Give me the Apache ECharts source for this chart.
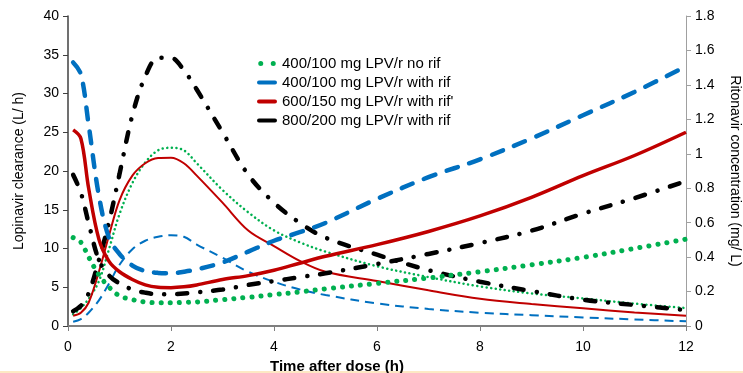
<!DOCTYPE html>
<html>
<head>
<meta charset="utf-8">
<script src="https://cdn.jsdelivr.net/npm/echarts@6/dist/echarts.min.js"></script>
<style>
  html, body { margin: 0; padding: 0; background: #fff; }
  #chart { width: 743px; height: 373px; }
</style>
</head>
<body>
<div id="chart"></div>
<script>
// time after dose (h), shared by every curve
const hours = [0.1, 0.25, 0.4, 0.6, 0.8, 1, 1.25, 1.5, 1.75, 2, 2.25, 2.5, 3, 3.5, 4, 4.5, 5, 6, 7, 8, 9, 10, 11, 12];

// lopinavir clearance (L/h), left axis
const clNoRif400 = [11.4, 10.8, 8.9, 6.6, 5.0, 3.9, 3.4, 3.1, 3.0, 3.0, 3.05, 3.1, 3.4, 3.7, 4.05, 4.4, 4.8, 5.5, 6.2, 7.0, 7.9, 8.85, 10.0, 11.2];
const clRif400 = [34.0, 32.5, 26.0, 16.8, 11.3, 9.3, 7.8, 7.1, 6.85, 6.8, 7.0, 7.3, 8.2, 9.6, 11.0, 12.1, 13.3, 16.4, 19.2, 21.5, 24.2, 27.2, 30.2, 33.5];
const clRif600 = [25.3, 24.2, 17.8, 11.2, 8.3, 7.0, 6.0, 5.3, 5.0, 4.95, 5.05, 5.3, 6.0, 6.5, 7.2, 8.1, 9.0, 10.5, 12.2, 14.2, 16.6, 19.4, 22.0, 25.0];
const clRif800 = [19.5, 17.2, 13.3, 8.5, 6.5, 5.5, 4.7, 4.3, 4.1, 4.1, 4.2, 4.35, 4.7, 5.3, 5.8, 6.3, 6.8, 8.0, 9.3, 10.7, 12.3, 14.5, 16.5, 18.7];

// ritonavir concentration (mg/L), right axis
const rtvNoRif400 = [0.068, 0.104, 0.158, 0.26, 0.45, 0.65, 0.83, 0.95, 1.02, 1.035, 1.02, 0.945, 0.79, 0.66, 0.555, 0.486, 0.432, 0.347, 0.284, 0.23, 0.189, 0.16, 0.13, 0.104];
const rtvRif400 = [0.025, 0.04, 0.077, 0.149, 0.248, 0.356, 0.446, 0.495, 0.518, 0.527, 0.518, 0.473, 0.396, 0.315, 0.257, 0.212, 0.18, 0.131, 0.099, 0.077, 0.063, 0.05, 0.038, 0.027];
const rtvRif600 = [0.059, 0.077, 0.135, 0.315, 0.53, 0.73, 0.873, 0.945, 0.975, 0.977, 0.945, 0.873, 0.716, 0.554, 0.464, 0.378, 0.315, 0.261, 0.207, 0.158, 0.128, 0.103, 0.079, 0.059];
const rtvRif800 = [0.086, 0.117, 0.189, 0.383, 0.608, 0.882, 1.224, 1.449, 1.557, 1.557, 1.485, 1.373, 1.125, 0.878, 0.716, 0.599, 0.513, 0.414, 0.324, 0.257, 0.203, 0.153, 0.122, 0.093];

const legendNames = ['400/100 mg LPV/r no rif', '400/100 mg LPV/r with rif', '600/150 mg LPV/r with rif\'', '800/200 mg LPV/r with rif'];

const GREEN = '#00b050', BLUE = '#0070c0', RED = '#c00000', BLACK = '#000000';
const FONT = '"Liberation Sans", Arial, sans-serif';

const pairs = (vals) => hours.map((h, i) => [h, vals[i]]);

function line(name, vals, yAxisIndex, color, width, type, cap) {
  return {
    name, type: 'line', yAxisIndex, data: pairs(vals),
    smooth: 0.35, symbol: 'none', silent: true,
    lineStyle: { color, width, type, cap: cap || 'butt' },
    itemStyle: { color },
  };
}

// legend keys: two dots for the dotted series, a short bar for the rest
const DOTS = 'path://M0,2a2,2 0 1,0 4,0a2,2 0 1,0 -4,0zM10,2a2,2 0 1,0 4,0a2,2 0 1,0 -4,0z';
const BAR = 'path://M2,0h16a2,2 0 0,1 0,4h-16a2,2 0 0,1 0,-4z';

const chart = echarts.init(document.getElementById('chart'), null, { renderer: 'canvas' });
chart.setOption({
  animation: false,
  backgroundColor: '#fff',
  textStyle: { fontFamily: FONT },
  grid: { left: 68, right: 57, top: 16, bottom: 47, outerBoundsMode: 'none', containLabel: false },
  legend: {
    data: [
      { name: legendNames[0], icon: DOTS, itemStyle: { color: GREEN } },
      { name: legendNames[1], icon: BAR, itemStyle: { color: BLUE } },
      { name: legendNames[2], icon: BAR, itemStyle: { color: RED } },
      { name: legendNames[3], icon: BAR, itemStyle: { color: BLACK } },
    ],
    orient: 'vertical', left: 252, top: 50,
    itemWidth: 20, itemHeight: 5, itemGap: 2,
    textStyle: { fontFamily: FONT, fontSize: 15, color: '#000', lineHeight: 17 },
  },
  title: {
    text: 'Time after dose (h)', left: 265, top: 354,
    textStyle: { fontFamily: FONT, fontSize: 15, fontWeight: 'bold', color: '#000' },
  },
  graphic: [{ type: 'rect', shape: { x: 0, y: 371, width: 743, height: 2 }, style: { fill: '#fde9c4' } }],
  xAxis: {
    type: 'value', min: 0, max: 12, interval: 2,
    axisLine: { onZero: false, lineStyle: { color: '#7f7f7f', width: 2 } },
    axisTick: { show: true, length: 5, lineStyle: { color: '#7f7f7f' } },
    axisLabel: { color: '#000', fontSize: 14, margin: 14 },
    splitLine: { show: false },
  },
  yAxis: [
    {
      type: 'value', min: 0, max: 40, interval: 5,
      name: 'Lopinavir clearance (L/ h)', nameLocation: 'middle', nameGap: 42, nameRotate: 90,
      nameTextStyle: { fontFamily: FONT, fontSize: 14, color: '#000' },
      axisLine: { show: true, lineStyle: { color: '#404040', width: 1.5 } },
      axisTick: { show: true, length: 5, lineStyle: { color: '#404040' } },
      axisLabel: { color: '#000', fontSize: 14, margin: 9 },
      splitLine: { show: false },
    },
    {
      type: 'value', min: 0, max: 1.8, interval: 0.2, position: 'right',
      name: 'Ritonavir concentration (mg/ L)', nameLocation: 'middle', nameGap: 42, nameRotate: -90,
      nameTextStyle: { fontFamily: FONT, fontSize: 14, color: '#000' },
      axisLine: { show: true, lineStyle: { color: '#a0a0a0', width: 1 } },
      axisTick: { show: true, length: 5, lineStyle: { color: '#a0a0a0' } },
      axisLabel: { color: '#000', fontSize: 14, margin: 9, formatter: (v) => String(Math.round(v * 10) / 10) },
      splitLine: { show: false },
    },
  ],
  series: [
    line(legendNames[0] + ' rtv', rtvNoRif400, 1, GREEN, 2.5, [0.1, 4.5], 'round'),
    line(legendNames[1] + ' rtv', rtvRif400, 1, BLUE, 2, [9, 6]),
    line(legendNames[2] + ' rtv', rtvRif600, 1, RED, 2),
    line(legendNames[3] + ' rtv', rtvRif800, 1, BLACK, 4.5, [10, 13, 0.1, 13], 'round'),
    line(legendNames[0], clNoRif400, 0, GREEN, 5, [0.1, 9], 'round'),
    line(legendNames[1], clRif400, 0, BLUE, 4.5, [12, 12], 'round'),
    line(legendNames[2], clRif600, 0, RED, 3.5),
    line(legendNames[3], clRif800, 0, BLACK, 4.5, [10, 13, 0.1, 13], 'round'),
  ],
});
</script>
</body>
</html>
